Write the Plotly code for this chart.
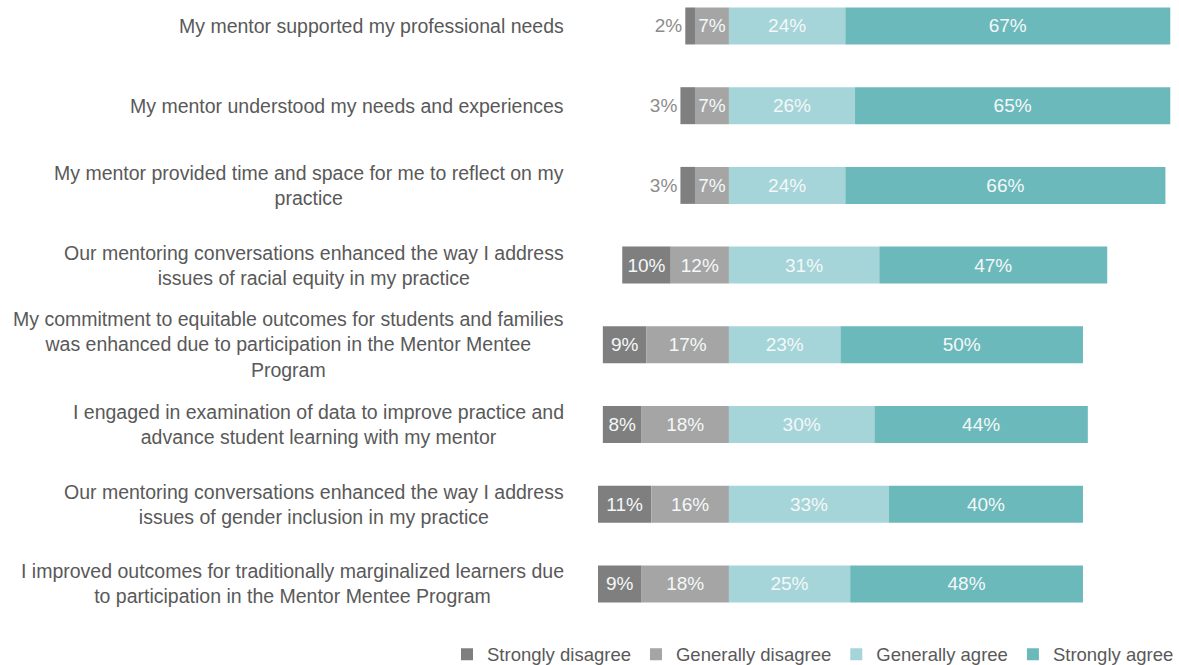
import plotly.graph_objects as go

# Survey statements (top to bottom)
statements = [
    "My mentor supported my professional needs",
    "My mentor understood my needs and experiences",
    "My mentor provided time and space for me to reflect on my<br>practice",
    "Our mentoring conversations enhanced the way I address<br>issues of racial equity in my practice",
    "My commitment to equitable outcomes for students and families<br>was enhanced due to participation in the Mentor Mentee<br>Program",
    "I engaged in examination of data to improve practice and<br>advance student learning with my mentor",
    "Our mentoring conversations enhanced the way I address<br>issues of gender inclusion in my practice",
    "I improved outcomes for traditionally marginalized learners due<br>to participation in the Mentor Mentee Program",
]

# Response shares (%)
strongly_disagree = [2, 3, 3, 10, 9, 8, 11, 9]
generally_disagree = [7, 7, 7, 12, 17, 18, 16, 18]
generally_agree = [24, 26, 24, 31, 23, 30, 33, 25]
strongly_agree = [67, 65, 66, 47, 50, 44, 40, 48]

series_names = ["Strongly disagree", "Generally disagree", "Generally agree", "Strongly agree"]
colors = ["#7f7f7f", "#a5a5a5", "#a5d5d8", "#6cb9bc"]

rows = list(range(len(statements)))
FONT = "Liberation Sans, Arial, sans-serif"
LABEL_COLOR = "#595959"
IN_TEXT = "#f4f8f8"
BAR_TEXT = 19

fig = go.Figure()

def pct(vals):
    return [f"{v}%" for v in vals]

# Disagree side: drawn leftward from zero
fig.add_trace(go.Bar(
    name=series_names[0], y=rows, x=[-v for v in strongly_disagree],
    base=[-v for v in generally_disagree], orientation="h",
    marker=dict(color=colors[0], line=dict(width=0)),
    text=pct(strongly_disagree),
    textposition=["outside" if v < 5 else "inside" for v in strongly_disagree],
    insidetextanchor="middle",
    insidetextfont=dict(color=IN_TEXT, size=BAR_TEXT, family=FONT),
    outsidetextfont=dict(color="#8c8c8c", size=BAR_TEXT, family=FONT),
    cliponaxis=False, textangle=0,
))
fig.add_trace(go.Bar(
    name=series_names[1], y=rows, x=[-v for v in generally_disagree],
    orientation="h",
    marker=dict(color=colors[1], line=dict(width=0)),
    text=pct(generally_disagree), textposition="inside", insidetextanchor="middle",
    insidetextfont=dict(color=IN_TEXT, size=BAR_TEXT, family=FONT), textangle=0,
))
# Agree side: drawn rightward from zero
fig.add_trace(go.Bar(
    name=series_names[2], y=rows, x=generally_agree, orientation="h",
    marker=dict(color=colors[2], line=dict(width=0)),
    text=pct(generally_agree), textposition="inside", insidetextanchor="middle",
    insidetextfont=dict(color=IN_TEXT, size=BAR_TEXT, family=FONT), textangle=0,
))
fig.add_trace(go.Bar(
    name=series_names[3], y=rows, x=strongly_agree, base=generally_agree,
    orientation="h",
    marker=dict(color=colors[3], line=dict(width=0)),
    text=pct(strongly_agree), textposition="inside", insidetextanchor="middle",
    insidetextfont=dict(color=IN_TEXT, size=BAR_TEXT, family=FONT), textangle=0,
))

# Statement labels, right-aligned block with centred lines
for i, s in enumerate(statements):
    fig.add_annotation(
        x=-33.6, y=i, xref="x", yref="y", text=s, showarrow=False,
        xanchor="right", yanchor="middle", align="center",
        font=dict(size=19.5, color=LABEL_COLOR, family=FONT),
    )

fig.update_layout(
    width=1179, height=665,
    margin=dict(l=0, r=0, t=0, b=45, autoexpand=False),
    paper_bgcolor="white", plot_bgcolor="white",
    barmode="overlay", bargap=0.536,
    showlegend=True,
    legend=dict(
        orientation="h", x=1, xanchor="right", y=-0.056, yanchor="middle",
        font=dict(size=18.5, color=LABEL_COLOR, family=FONT),
        traceorder="normal", itemwidth=30,
    ),
    xaxis=dict(range=[-150.3, 92.8], visible=False, fixedrange=True),
    yaxis=dict(range=[7.453, -0.326], visible=False, fixedrange=True),
    uniformtext=dict(mode=False),
)

fig.write_html("out.html")
